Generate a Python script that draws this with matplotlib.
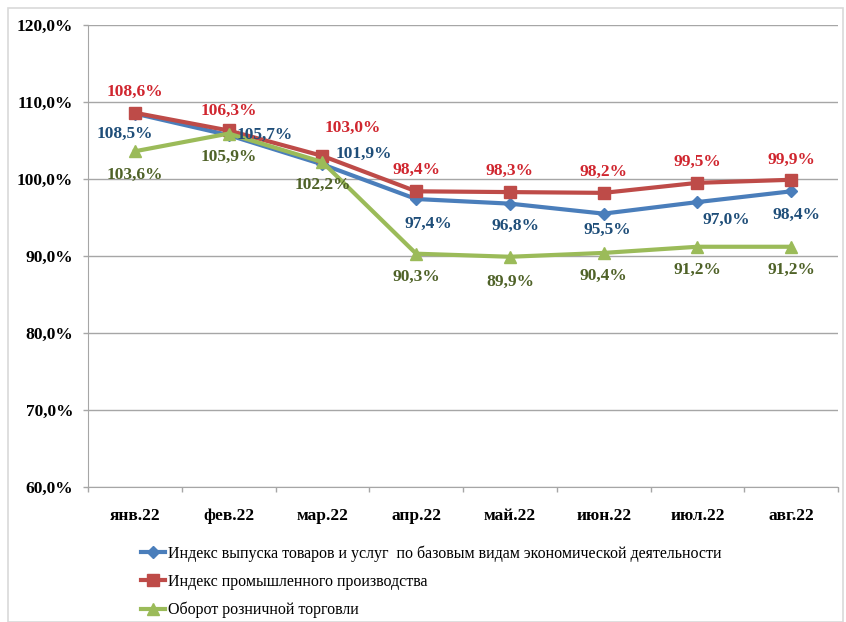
import matplotlib
matplotlib.use("Agg")
import matplotlib.pyplot as plt
from matplotlib.patches import Rectangle
from matplotlib.ticker import FuncFormatter, FixedLocator

plt.rcParams['font.family'] = ['Liberation Serif', 'DejaVu Serif']

categories = ["янв.22", "фев.22", "мар.22", "апр.22", "май.22", "июн.22", "июл.22", "авг.22"]
series_names = [
    "Индекс выпуска товаров и услуг  по базовым видам экономической деятельности",
    "Индекс промышленного производства",
    "Оборот розничной торговли",
]
blue_vals = [108.5, 105.7, 101.9, 97.4, 96.8, 95.5, 97.0, 98.4]
red_vals = [108.6, 106.3, 103.0, 98.4, 98.3, 98.2, 99.5, 99.9]
green_vals = [103.6, 105.9, 102.2, 90.3, 89.9, 90.4, 91.2, 91.2]
y_ticks = [60, 70, 80, 90, 100, 110, 120]

W, H = 846, 622
fig = plt.figure(figsize=(W / 100, H / 100), dpi=100)
fig.patches.append(Rectangle((8 / W, 0), (835) / W, 1 - 8 / H, transform=fig.transFigure,
                             fill=False, edgecolor='#D9D9D9', linewidth=1.2))
ax = fig.add_axes([88 / W, 1 - 487 / H, (838 - 88) / W, (487 - 25) / H])

x = list(range(len(categories)))
line_colors = ['#4A7EBB', '#BE4B48', '#9BBB59']
label_colors = ['#1F4E79', '#D0262F', '#4F6228']
markers = ['D', 's', '^']
msizes = [6.5, 9, 9]
series = [blue_vals, red_vals, green_vals]

# label offsets in pixels (dx, dy; dy positive = down)
offsets = [
    [(-10, 20), (36, 0), (41, -10), (12, 25), (6, 22), (4, 16), (29, 18), (5, 24)],
    [(0, -21), (0, -20), (30, -28), (0, -21), (0, -21), (0, -21), (0, -21), (0, -20)],
    [(0, 24), (0, 23), (0, 23), (0, 23), (0, 25), (0, 23), (0, 23), (0, 23)],
]

handles = []
for vals, lc, tc, mk, ms, offs, name in zip(series, line_colors, label_colors, markers, msizes, offsets, series_names):
    h, = ax.plot(x, vals, color=lc, linewidth=3, marker=mk, markersize=ms,
                 markerfacecolor=lc, markeredgecolor=lc, label=name, zorder=3)
    handles.append(h)
    for xi, v, (dx, dy) in zip(x, vals, offs):
        ax.annotate(f"{v:.1f}%".replace('.', ','), (xi, v), xytext=(dx * 0.72, -dy * 0.72),
                    textcoords='offset points', ha='center', va='center',
                    fontsize=12.5, fontweight='bold', color=tc, zorder=4)

ax.set_xlim(-0.5, len(categories) - 0.5)
ax.set_ylim(60, 120)
ax.yaxis.set_major_locator(FixedLocator(y_ticks))
ax.yaxis.set_major_formatter(FuncFormatter(lambda v, p: f"{v:.1f}%".replace('.', ',')))
ax.set_xticks(x)
ax.set_xticklabels(categories)
ax.set_xticks([i - 0.5 for i in range(len(categories) + 1)], minor=True)
ax.tick_params(axis='x', which='major', length=0, pad=15, labelsize=12.5)
ax.tick_params(axis='x', which='minor', length=3.6, color='#A6A6A6', width=1)
ax.tick_params(axis='y', length=3.6, color='#A6A6A6', width=1, pad=7, labelsize=12.5)
for lab in ax.get_xticklabels() + ax.get_yticklabels():
    lab.set_fontweight('bold')

ax.grid(axis='y', color='#A6A6A6', linewidth=1)
ax.set_axisbelow(True)
for s in ['top', 'right']:
    ax.spines[s].set_visible(False)
ax.spines['left'].set_color('#A6A6A6')
ax.spines['bottom'].set_color('#A6A6A6')

fig.legend(handles=handles, loc='upper left', bbox_to_anchor=(135 / W, 1 - 539 / H),
           frameon=False, fontsize=11.5, handlelength=1.5, handletextpad=0.15,
           labelspacing=0.75, borderaxespad=0)

fig.savefig("out.png", dpi=100)
